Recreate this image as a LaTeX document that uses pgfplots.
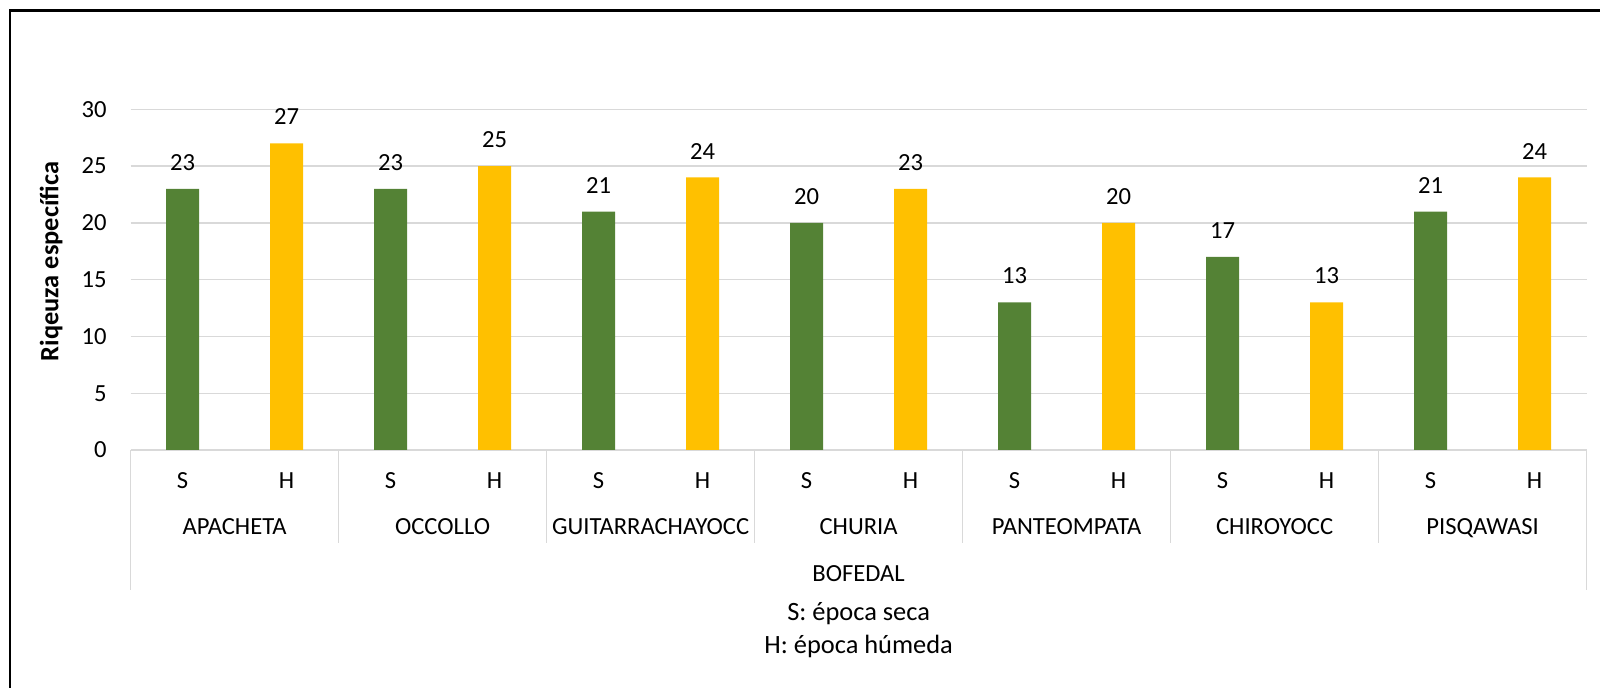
\documentclass[border=0pt]{standalone}
\usepackage{pgfplots}
\pgfplotsset{compat=1.18}
\usepackage{fontspec}
\setmainfont{Carlito}
\definecolor{verde}{HTML}{548235}
\definecolor{amarillo}{HTML}{FFC000}
\definecolor{rejilla}{HTML}{D9D9D9}
\newcommand{\lbl}{\fontsize{12.3}{14}\selectfont}
\begin{document}
\begin{tikzpicture}
% page = 1600 x 688 px, 1 px = 0.5pt
\useasboundingbox (0pt,0pt) rectangle (800pt,-344pt);
\draw[black, line width=1.2pt] (5pt,-344pt) -- (5pt,-5.3pt) -- (800pt,-5.3pt);
\node[rotate=90, anchor=base, font=\fontsize{13.2}{15}\selectfont\bfseries]
  at (29.2pt,-130.8pt) {Riqeuza específica};
\begin{axis}[
    at={(65.3pt,-225pt)},
    anchor=south west,
    scale only axis,
    width=728pt,
    height=170.35pt,
    xmin=-0.5, xmax=13.5,
    ymin=0, ymax=30,
    ytick={0,5,...,30},
    xtick={0,...,13},
    xticklabels={S,H,S,H,S,H,S,H,S,H,S,H,S,H},
    ymajorgrids=true,
    grid style={rejilla, line width=0.7pt},
    axis line style={draw=none},
    major tick length=0pt,
    tick label style={font=\lbl},
    /pgf/number format/assume math mode=true,
    yticklabel style={anchor=east, inner sep=0pt, xshift=-11.8pt},
    xticklabel style={anchor=base, yshift=-19.2pt},
    ybar,
    bar width=16.5pt,
    bar shift=0pt,
    nodes near coords,
    every node near coord/.append style={font=\lbl,
      black, inner sep=0pt, yshift=9pt},
    clip=false
]
% S: época seca
\addplot[fill=verde, draw=none] coordinates {
(0,23) (2,23) (4,21) (6,20) (8,13) (10,17) (12,21)
};
% H: época húmeda
\addplot[fill=amarillo, draw=none] coordinates {
(1,27) (3,25) (5,24) (7,23) (9,20) (11,13) (13,24)
};

% multi-level category axis
\draw[rejilla, line width=0.7pt] (axis cs:-0.5,0) -- (axis cs:-0.5,-12.33);
\draw[rejilla, line width=0.7pt] (axis cs:13.5,0) -- (axis cs:13.5,-12.33);
\draw[rejilla, line width=0.7pt] (axis cs:1.5,0) -- (axis cs:1.5,-8.19);
\draw[rejilla, line width=0.7pt] (axis cs:3.5,0) -- (axis cs:3.5,-8.19);
\draw[rejilla, line width=0.7pt] (axis cs:5.5,0) -- (axis cs:5.5,-8.19);
\draw[rejilla, line width=0.7pt] (axis cs:7.5,0) -- (axis cs:7.5,-8.19);
\draw[rejilla, line width=0.7pt] (axis cs:9.5,0) -- (axis cs:9.5,-8.19);
\draw[rejilla, line width=0.7pt] (axis cs:11.5,0) -- (axis cs:11.5,-8.19);
\node[anchor=base, font=\lbl] at (axis cs:0.5,-7.46) {APACHETA};
\node[anchor=base, font=\lbl] at (axis cs:2.5,-7.46) {OCCOLLO};
\node[anchor=base, font=\lbl] at (axis cs:4.5,-7.46) {GUITARRACHAYOCC};
\node[anchor=base, font=\lbl] at (axis cs:6.5,-7.46) {CHURIA};
\node[anchor=base, font=\lbl] at (axis cs:8.5,-7.46) {PANTEOMPATA};
\node[anchor=base, font=\lbl] at (axis cs:10.5,-7.46) {CHIROYOCC};
\node[anchor=base, font=\lbl] at (axis cs:12.5,-7.46) {PISQAWASI};
\node[anchor=base, font=\lbl] at (axis cs:6.5,-11.6) {BOFEDAL};
\node[anchor=base, font=\fontsize{13.2}{15}\selectfont] at (axis cs:6.5,-14.97) {S: época seca};
\node[anchor=base, font=\fontsize{13.2}{15}\selectfont] at (axis cs:6.5,-17.9) {H: época húmeda};
\end{axis}
\end{tikzpicture}
\end{document}
